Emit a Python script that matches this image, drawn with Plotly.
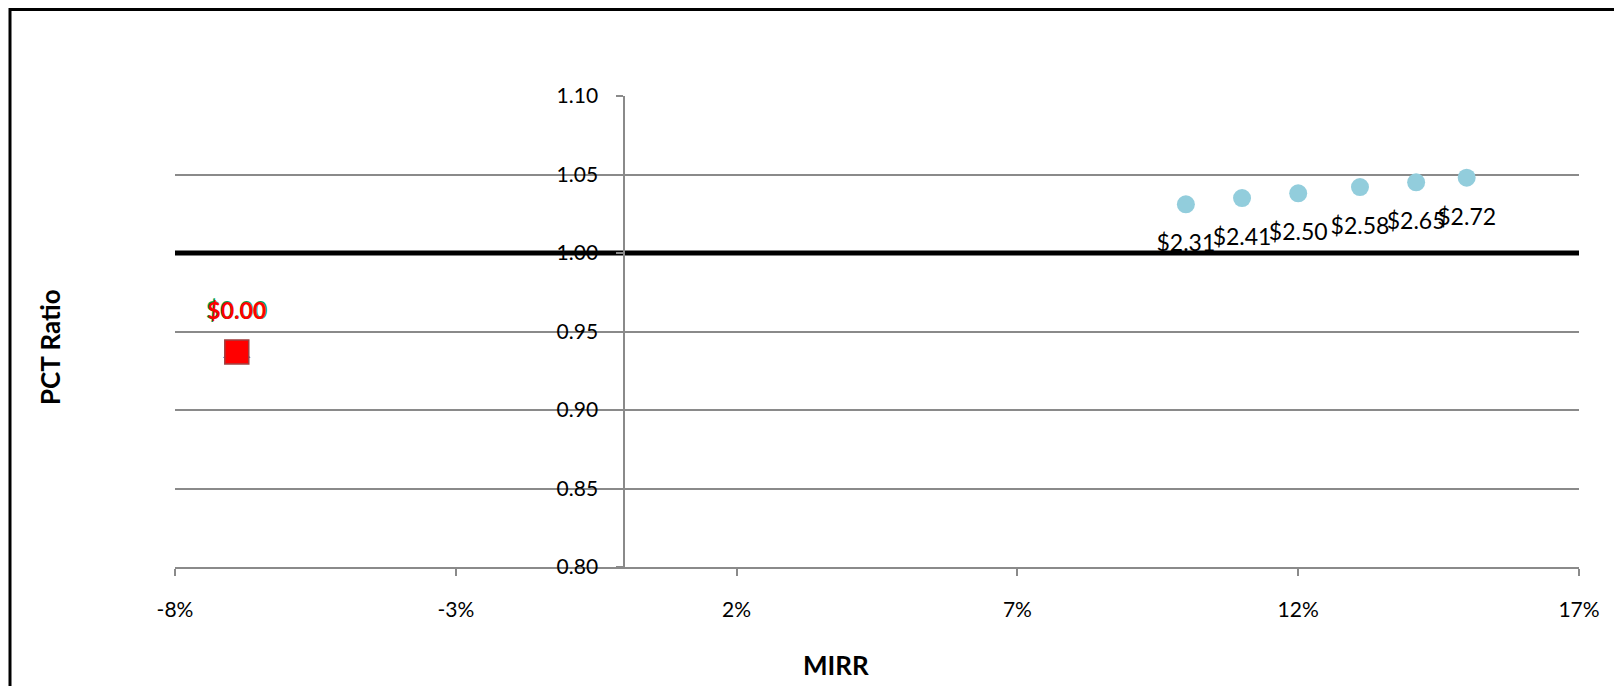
import plotly.graph_objects as go

# ---- data ----
blue_x = [0.100, 0.110, 0.120, 0.131, 0.141, 0.150]
blue_y = [1.031, 1.035, 1.038, 1.042, 1.045, 1.048]
blue_labels = ["$2.31", "$2.41", "$2.50", "$2.58", "$2.65", "$2.72"]

red_x = [-0.069]
red_y = [0.937]
red_labels = ["$0.00"]

ref_x = [-0.08, 0.17]
ref_y = [1.00, 1.00]

x_tickvals = [-0.08, -0.03, 0.02, 0.07, 0.12, 0.17]
x_ticktext = ["-8%", "-3%", "2%", "7%", "12%", "17%"]
y_tickvals = [0.80, 0.85, 0.90, 0.95, 1.00, 1.05, 1.10]
y_ticktext = ["0.80", "0.85", "0.90", "0.95", "1.00", "1.05", "1.10"]

W, H = 1622, 686
OFF = 8  # page body margin
PW, PH = 1404, 471
L = 175 - OFF
T = 96 - OFF
R = W - L - PW
B = H - T - PH
FONT = "Lato"
GRID = "#8a8a8a"

def px_x(p):
    return (p - OFF - L) / PW

def px_y(p):
    return (T + PH - (p - OFF)) / PH

fig = go.Figure()

# reference line at 1.00
fig.add_trace(go.Scatter(x=ref_x, y=ref_y, mode="lines",
                         line=dict(color="black", width=5),
                         hoverinfo="skip", showlegend=False))

# blue series
fig.add_trace(go.Scatter(x=blue_x, y=blue_y, mode="markers",
                         marker=dict(color="#92CDDC", size=18),
                         showlegend=False))
fig.add_trace(go.Scatter(x=blue_x, y=blue_y, mode="markers+text",
                         marker=dict(color="rgba(0,0,0,0)", size=46),
                         text=blue_labels, textposition="bottom center",
                         textfont=dict(family=FONT, size=23, color="black"),
                         hoverinfo="skip", showlegend=False))

# hidden series at the negative point
fig.add_trace(go.Scatter(x=red_x, y=red_y, mode="markers",
                         marker=dict(color="#4F81BD", size=24, symbol="triangle-up"),
                         showlegend=False))
fig.add_trace(go.Scatter(x=red_x, y=red_y, mode="markers",
                         marker=dict(color="#FF0000", size=24, symbol="square",
                                     line=dict(color="#A04040", width=1.5)),
                         showlegend=False))
fig.add_trace(go.Scatter(x=red_x, y=red_y, mode="markers+text",
                         marker=dict(color="rgba(0,0,0,0)", size=42),
                         text=red_labels, textposition="top center",
                         textfont=dict(family=FONT, size=24, color="#00A050", weight="bold"),
                         hoverinfo="skip", showlegend=False))
fig.add_trace(go.Scatter(x=red_x, y=red_y, mode="markers+text",
                         marker=dict(color="rgba(0,0,0,0)", size=42),
                         text=red_labels, textposition="top center",
                         textfont=dict(family=FONT, size=23, color="#FF0000", weight="bold"),
                         hoverinfo="skip", showlegend=False))

fig.update_layout(
    width=W, height=H,
    margin=dict(l=L, r=R, t=T, b=B, autoexpand=False),
    paper_bgcolor="white", plot_bgcolor="white",
    font=dict(family=FONT, size=20, color="black"),
    xaxis=dict(range=[-0.08, 0.17], tickvals=x_tickvals, ticktext=x_ticktext,
               showgrid=False, zeroline=False, showline=True,
               linecolor=GRID, linewidth=2, ticks="outside", ticklen=7,
               tickcolor=GRID, tickwidth=2, ticklabelstandoff=16,
               tickfont=dict(family=FONT, size=21)),
    yaxis=dict(range=[0.80, 1.10], tickvals=y_tickvals, ticktext=y_ticktext,
               showgrid=True, gridcolor=GRID, gridwidth=1.5, zeroline=False,
               showline=True, linecolor=GRID, linewidth=2, ticks="outside",
               ticklen=7, tickcolor=GRID, tickwidth=2,
               anchor="free", position=0.32, ticklabelstandoff=14,
               tickfont=dict(family=FONT, size=21)),
    annotations=[
        dict(text="<b>MIRR</b>", x=px_x(836), y=px_y(665), xref="paper", yref="paper",
             showarrow=False, font=dict(family=FONT, size=26, color="black"),
             xanchor="center", yanchor="middle"),
        dict(text="<b>PCT Ratio</b>", x=px_x(50), y=px_y(347), xref="paper", yref="paper",
             showarrow=False, textangle=-90, font=dict(family=FONT, size=26, color="black"),
             xanchor="center", yanchor="middle"),
    ],
    shapes=[
        dict(type="rect", xref="paper", yref="paper",
             x0=px_x(10), x1=px_x(1700), y0=px_y(760), y1=px_y(9.5),
             line=dict(color="black", width=3), fillcolor="rgba(0,0,0,0)", layer="above"),
    ],
)

fig.write_html("out.html")
